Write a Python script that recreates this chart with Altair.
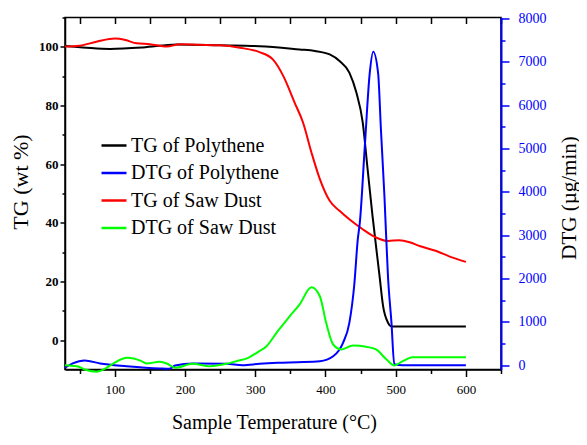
import altair as alt
import pandas as pd

series_names = ["TG of Polythene", "DTG of Polythene", "TG of Saw Dust", "DTG of Saw Dust"]
series_colors = ["#000000", "#0000ff", "#ff0000", "#00ff00"]

# TG of Polythene (wt %)
t_tg_pe = [29, 60, 93, 140, 188, 250, 306, 363, 385, 406, 420, 434, 444, 453, 460, 467, 477, 482, 489, 494, 550, 600]
tg_pe = [100.3, 99.7, 99.3, 99.8, 100.8, 100.5, 100.2, 99.1, 98.6, 97.4, 95.2, 91.2, 84.4, 74.3, 58.3, 42.4, 21.9, 11.7, 6.0, 4.7, 4.7, 4.7]

# TG of Saw Dust (wt %)
t_tg_sd = [29, 50, 75, 100, 115, 131, 150, 174, 193, 220, 250, 278, 306, 325, 340, 356, 368, 380, 392, 406,
           420, 434, 453, 472, 489, 505, 520, 534, 558, 577, 600]
tg_sd = [100.1, 100.4, 101.8, 102.8, 102.3, 101.2, 100.9, 100.1, 100.9, 100.7, 100.5, 99.7, 98.2, 95.7, 90.0,
         81.0, 74.2, 64.0, 54.9, 47.5, 44.1, 41.2, 37.8, 35.0, 33.8, 34.1, 33.4, 32.1, 30.4, 28.5, 26.7]

# DTG of Polythene (ug/min)
t_dtg_pe = [29, 40, 57, 79, 117, 164, 178, 186, 211, 259, 282, 306, 332, 360, 392, 411, 425, 434, 441, 446,
            449, 456, 463, 468, 475, 479, 484, 489, 494, 498, 510, 600]
dtg_pe = [-60, 40, 108, 39, -23, -76, -83, -7, 39, 32, 0, 32, 55, 70, 92, 207, 516, 976, 1850, 2900,
          3300, 5040, 6730, 7230, 6730, 5430, 3890, 2050, 976, 20, 0, 0]

# DTG of Saw Dust (ug/min)
t_dtg_sd = [29, 46, 57, 74, 88, 100, 117, 138, 145, 164, 174, 186, 211, 235, 259, 273, 290, 302, 316, 332,
            349, 363, 380, 392, 401, 411, 423, 439, 458, 472, 487, 498, 510, 524, 600]
dtg_sd = [0, -23, -99, -150, -60, 60, 170, 92, 39, 78, 39, -60, 32, -23, 32, 92, 170, 285, 437, 783,
          1128, 1398, 1796, 1589, 976, 477, 362, 454, 424, 362, 131, -7, 92, 184, 184]

x_ticks = list(range(50, 651, 50))
tg_ticks = list(range(0, 111, 10))
dtg_ticks = list(range(0, 8001, 500))

tg_df = pd.concat([
    pd.DataFrame({"T": t_tg_pe, "v": tg_pe, "s": series_names[0]}),
    pd.DataFrame({"T": t_tg_sd, "v": tg_sd, "s": series_names[2]}),
])
dtg_df = pd.concat([
    pd.DataFrame({"T": t_dtg_pe, "v": dtg_pe, "s": series_names[1]}),
    pd.DataFrame({"T": t_dtg_sd, "v": dtg_sd, "s": series_names[3]}),
])

FONT = "Liberation Serif"
x_scale = alt.Scale(domain=[29, 650], nice=False, zero=False)

color = alt.Color(
    "s:N",
    scale=alt.Scale(domain=series_names, range=series_colors),
    legend=alt.Legend(
        title=None, orient="none", legendX=35, legendY=114, padding=0,
        symbolType="stroke", symbolSize=625, symbolStrokeWidth=2.5,
        labelFont=FONT, labelFontSize=20, labelColor="black", labelOffset=3,
        rowPadding=3.5, labelLimit=300,
    ),
)

tg = alt.Chart(tg_df).mark_line(strokeWidth=2, interpolate="monotone").encode(
    x=alt.X("T:Q", scale=x_scale, axis=alt.Axis(
        orient="bottom", values=x_ticks, grid=False,
        labelExpr="datum.value % 100 === 0 ? datum.label : ''",
        tickSize={"condition": {"test": "datum.value % 100 === 0", "value": 7}, "value": 4},
        labelPadding=7, labelFontSize=13, labelColor="black",
        title="Sample Temperature (°C)", titleFontSize=20, titlePadding=16, titleX=209,
        domainColor="black", domainWidth=1.5, tickColor="black", tickWidth=1.5,
    )),
    y=alt.Y("v:Q", scale=alt.Scale(domain=[-10, 110], nice=False, zero=False), axis=alt.Axis(
        orient="left", values=tg_ticks, grid=False,
        labelExpr="datum.value % 20 === 0 ? datum.label : ''",
        tickSize={"condition": {"test": "datum.value % 20 === 0", "value": 5}, "value": 3},
        labelPadding=2, labelFontSize=13, labelFontWeight="bold", labelColor="black",
        title="TG (wt %)", titleFontSize=22, titlePadding=6, titleY=164,
        domainColor="black", domainWidth=1.5, tickColor="black", tickWidth=1.5,
    )),
    color=color,
)

dtg = alt.Chart(dtg_df).mark_line(strokeWidth=2, interpolate="monotone").encode(
    x=alt.X("T:Q", scale=x_scale, axis=alt.Axis(
        orient="top", values=x_ticks, grid=False, labels=False, title=None,
        domain=False, offset=-6, tickSize=6, tickColor="black", tickWidth=1.5,
    )),
    y=alt.Y("v:Q", scale=alt.Scale(domain=[-100, 8020], nice=False, zero=False), axis=alt.Axis(
        orient="right", values=dtg_ticks, grid=False,
        labelExpr="datum.value % 1000 === 0 ? datum.label : ''",
        format="d",
        tickSize={"condition": {"test": "datum.value % 1000 === 0", "value": 8}, "value": 4},
        labelPadding=9, labelFontSize=14, labelColor="#0000ff",
        title="DTG (µg/min)", titleFontSize=21, titlePadding=12, titleAngle=270,
        titleBaseline="top", titleColor="black", titleY=180,
        domainColor="#0000ff", domainWidth=2, tickColor="#0000ff", tickWidth=1.5,
    )),
    color=color,
)

chart = alt.layer(tg, dtg).resolve_scale(y="independent").resolve_axis(x="independent").properties(
    width=436, height=352,
    autosize=alt.AutoSizeParams(type="none"),
    padding={"left": 57, "top": 9.5, "right": 78, "bottom": 66},
).configure_axis(
    labelFont=FONT, titleFont=FONT, titleFontWeight="normal", titleColor="black",
).configure_view(stroke="black", strokeWidth=1.5)

chart.save("out.html", embed_options={"renderer": "svg", "actions": False})
